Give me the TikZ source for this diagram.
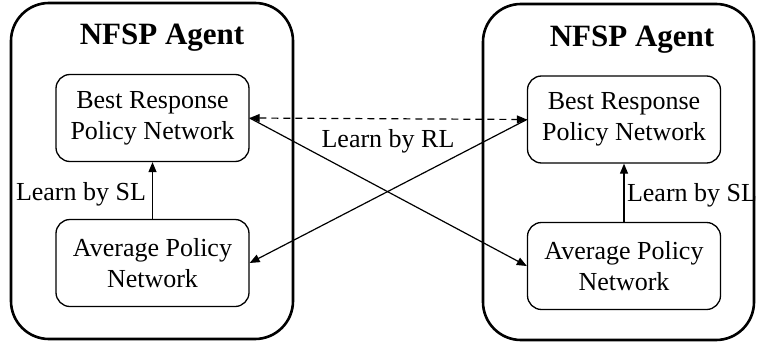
\documentclass[tikz,border=0pt]{standalone}
\usepackage{fontspec}
\setmainfont{Liberation Serif}
\usetikzlibrary{arrows.meta}
\begin{document}
\begin{tikzpicture}[x=1pt,y=-1pt,
  agent/.style={draw, line width=2.6pt, rounded corners=38pt},
  net/.style={draw, line width=1.3pt, rounded corners=14pt, align=center,
    minimum width=193pt, minimum height=87pt, inner sep=0pt,
    font=\fontsize{26}{31}\selectfont},
  lbl/.style={font=\fontsize{26}{31}\selectfont, inner sep=0pt},
  ttl/.style={font=\fontsize{31}{36}\selectfont\bfseries, inner sep=0pt},
  arr/.style={line width=1.2pt, -{Triangle[length=10pt,width=8pt]}},
  darr/.style={line width=1.2pt, dashed, dash pattern=on 7pt off 5pt, {Triangle[length=10pt,width=8pt]}-{Triangle[length=10pt,width=8pt]}}]
\useasboundingbox (0,0) rectangle (757,348);
\draw[agent] (11,3) rectangle (293,339);
\draw[agent] (483,4) rectangle (754,340);
\node[ttl] (t1) at (162,38) {NFSP Agent};
\node[ttl] (t2) at (632,40) {NFSP Agent};
\node[net] (lbr) at (152.5,118) {Best Response\\Policy Network};
\node[net] (lap) at (152.5,263) {Average Policy\\Network};
\node[net] (rbr) at (624,119.5) {Best Response\\Policy Network};
\node[net] (rap) at (624,266) {Average Policy\\Network};
\draw[arr] (lap) -- (lbr);
\draw[arr] (rap) -- (rbr);
\draw[darr] (lbr.east) -- (rbr.west);
\draw[arr] (lbr.east) -- (rap.west);
\draw[arr] (rbr.west) -- (lap.west -| lbr.east);
\node[lbl] (sl1) at (81,194) {Learn by SL};
\node[lbl] (sl2) at (692,195) {Learn by SL};
\node[lbl] (rl) at (388,141) {Learn by RL};
\end{tikzpicture}
\end{document}
